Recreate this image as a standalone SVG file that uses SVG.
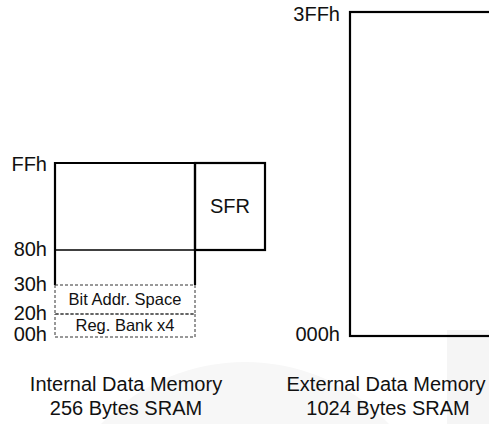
<svg xmlns="http://www.w3.org/2000/svg" width="489" height="424" viewBox="0 0 489 424">
<style>
text{font-family:"Liberation Sans",Arial,sans-serif;fill:#111}
.lbl{font-size:20px;text-anchor:end}
.cap{font-size:20px;text-anchor:middle}
.sm{font-size:16.5px;text-anchor:middle}
.box{fill:none;stroke:#000;stroke-width:2.2}
.thin{stroke:#000;stroke-width:1.5;fill:none}
.dash{stroke:#333;stroke-width:1;fill:none;stroke-dasharray:3 2}
</style>
<rect width="489" height="424" fill="#fff"/>
<g id="background">
<circle cx="245" cy="560" r="198" fill="#f7f7f7"/>
<rect x="447" y="330" width="42" height="94" fill="#f5f5f5"/>
</g>
<g id="internal">
<rect x="55" y="163" width="140" height="122" fill="#fff"/>
<path class="box" d="M55,285 V163 H195 V285"/>
<line class="thin" x1="55" y1="250" x2="195" y2="250"/>
<text class="lbl" x="47" y="171">FFh</text>
<text class="lbl" x="47" y="256">80h</text>
</g>
<g id="sfr">
<rect class="box" x="195" y="163" width="70" height="87" fill="#fff"/>
<text class="cap" x="230" y="213">SFR</text>
</g>
<g id="bitaddr">
<rect class="dash" x="55" y="285" width="140" height="29"/>
<text class="sm" x="125" y="305">Bit Addr. Space</text>
<text class="lbl" x="47" y="291">30h</text>
</g>
<g id="regbank">
<rect class="dash" x="55" y="314" width="140" height="23"/>
<text class="sm" x="125" y="331">Reg. Bank x4</text>
<text class="lbl" x="47" y="320">20h</text>
<text class="lbl" x="47" y="341">00h</text>
</g>
<g id="external">
<rect class="box" x="350" y="12" width="200" height="324" fill="#fff"/>
<text class="lbl" x="340" y="21">3FFh</text>
<text class="lbl" x="340" y="341">000h</text>
</g>
<g id="captions">
<text class="cap" x="126" y="391">Internal Data Memory</text>
<text class="cap" x="126" y="415">256 Bytes SRAM</text>
<text class="cap" x="386" y="391">External Data Memory</text>
<text class="cap" x="388" y="415">1024 Bytes SRAM</text>
</g>
<g id="connectors"></g>
</svg>
